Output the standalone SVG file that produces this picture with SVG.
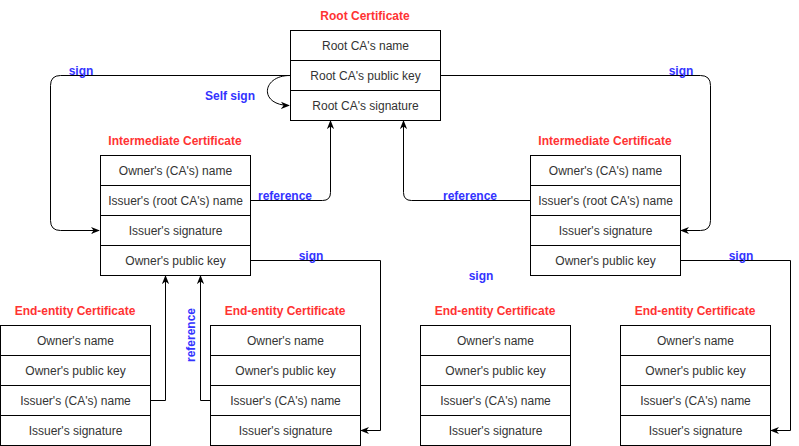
<svg xmlns="http://www.w3.org/2000/svg" width="799" height="446" viewBox="0 0 799 446">
<defs>
<style>
.cell{fill:#fff;stroke:#000;stroke-width:1}
.t{font-family:"Liberation Sans",Arial,sans-serif;font-size:12px;fill:#333;text-anchor:middle;dominant-baseline:central}
.title{font-family:"Liberation Sans",Arial,sans-serif;font-size:12px;font-weight:bold;fill:#FF3333;text-anchor:middle;dominant-baseline:central}
.lbl{font-family:"Liberation Sans",Arial,sans-serif;font-size:12px;font-weight:bold;fill:#3333FF;text-anchor:middle;dominant-baseline:central}
.c{fill:none;stroke:#000;stroke-width:1}
</style>
<marker id="arr" viewBox="0 0 10 10" refX="9" refY="5" markerWidth="9" markerHeight="9" markerUnits="userSpaceOnUse" orient="auto">
<path d="M0,1 L10,5 L0,9 L3,5 Z" fill="#000"/>
</marker>
</defs>
<rect width="799" height="446" fill="#fff"/>

<g id="connectors">
<path class="c" d="M290.5,75.5 H60.5 Q50.5,75.5 50.5,85.5 V220.5 Q50.5,230.5 60.5,230.5 H99" marker-end="url(#arr)"/>
<path class="c" d="M290.5,75.5 C262,75 258,105 289,105.5" marker-end="url(#arr)"/>
<path class="c" d="M250.5,200.5 H322.5 Q330.5,200.5 330.5,192.5 V121" marker-end="url(#arr)"/>
<path class="c" d="M440.5,75.5 H700.5 Q710.5,75.5 710.5,85.5 V220.5 Q710.5,230.5 700.5,230.5 H681" marker-end="url(#arr)"/>
<path class="c" d="M530.5,200.5 H411.5 Q403.5,200.5 403.5,192.5 V121" marker-end="url(#arr)"/>
<path class="c" d="M250.5,260.5 H380.5 V430.5 H361" marker-end="url(#arr)"/>
<path class="c" d="M150.5,400.5 H165.5 V276" marker-end="url(#arr)"/>
<path class="c" d="M210.5,400.5 H200.5 V276" marker-end="url(#arr)"/>
<path class="c" d="M680.5,260.5 H790.5 V430.5 H771" marker-end="url(#arr)"/>
<text class="lbl" x="81" y="71">sign</text>
<text class="lbl" x="230" y="96">Self sign</text>
<text class="lbl" x="285" y="196">reference</text>
<text class="lbl" x="681" y="71">sign</text>
<text class="lbl" x="470" y="196">reference</text>
<text class="lbl" x="311" y="256">sign</text>
<text class="lbl" x="741" y="256">sign</text>
<text class="lbl" x="481" y="276">sign</text>
<text class="lbl" x="0" y="0" transform="translate(191,335) rotate(-90)">reference</text>
</g>

<g id="root">
<text class="title" x="365" y="16">Root Certificate</text>
<rect class="cell" x="290.5" y="30.5" width="150" height="30"/>
<rect class="cell" x="290.5" y="60.5" width="150" height="30"/>
<rect class="cell" x="290.5" y="90.5" width="150" height="30"/>
<text class="t" x="365.5" y="45.5">Root CA's name</text>
<text class="t" x="365.5" y="75.5">Root CA's public key</text>
<text class="t" x="365.5" y="105.5">Root CA's signature</text>
</g>

<g id="intermediate-left">
<text class="title" x="175" y="141">Intermediate Certificate</text>
<rect class="cell" x="100.5" y="155.5" width="150" height="30"/>
<rect class="cell" x="100.5" y="185.5" width="150" height="30"/>
<rect class="cell" x="100.5" y="215.5" width="150" height="30"/>
<rect class="cell" x="100.5" y="245.5" width="150" height="30"/>
<text class="t" x="175.5" y="170.5">Owner's (CA's) name</text>
<text class="t" x="175.5" y="200.5">Issuer's (root CA's) name</text>
<text class="t" x="175.5" y="230.5">Issuer's signature</text>
<text class="t" x="175.5" y="260.5">Owner's public key</text>
</g>

<g id="intermediate-right">
<text class="title" x="605" y="141">Intermediate Certificate</text>
<rect class="cell" x="530.5" y="155.5" width="150" height="30"/>
<rect class="cell" x="530.5" y="185.5" width="150" height="30"/>
<rect class="cell" x="530.5" y="215.5" width="150" height="30"/>
<rect class="cell" x="530.5" y="245.5" width="150" height="30"/>
<text class="t" x="605.5" y="170.5">Owner's (CA's) name</text>
<text class="t" x="605.5" y="200.5">Issuer's (root CA's) name</text>
<text class="t" x="605.5" y="230.5">Issuer's signature</text>
<text class="t" x="605.5" y="260.5">Owner's public key</text>
</g>

<g id="end-entity-1">
<text class="title" x="75" y="311">End-entity Certificate</text>
<rect class="cell" x="0.5" y="325.5" width="150" height="30"/>
<rect class="cell" x="0.5" y="355.5" width="150" height="30"/>
<rect class="cell" x="0.5" y="385.5" width="150" height="30"/>
<rect class="cell" x="0.5" y="415.5" width="150" height="30"/>
<text class="t" x="75.5" y="340.5">Owner's name</text>
<text class="t" x="75.5" y="370.5">Owner's public key</text>
<text class="t" x="75.5" y="400.5">Issuer's (CA's) name</text>
<text class="t" x="75.5" y="430.5">Issuer's signature</text>
</g>

<g id="end-entity-2">
<text class="title" x="285" y="311">End-entity Certificate</text>
<rect class="cell" x="210.5" y="325.5" width="150" height="30"/>
<rect class="cell" x="210.5" y="355.5" width="150" height="30"/>
<rect class="cell" x="210.5" y="385.5" width="150" height="30"/>
<rect class="cell" x="210.5" y="415.5" width="150" height="30"/>
<text class="t" x="285.5" y="340.5">Owner's name</text>
<text class="t" x="285.5" y="370.5">Owner's public key</text>
<text class="t" x="285.5" y="400.5">Issuer's (CA's) name</text>
<text class="t" x="285.5" y="430.5">Issuer's signature</text>
</g>

<g id="end-entity-3">
<text class="title" x="495" y="311">End-entity Certificate</text>
<rect class="cell" x="420.5" y="325.5" width="150" height="30"/>
<rect class="cell" x="420.5" y="355.5" width="150" height="30"/>
<rect class="cell" x="420.5" y="385.5" width="150" height="30"/>
<rect class="cell" x="420.5" y="415.5" width="150" height="30"/>
<text class="t" x="495.5" y="340.5">Owner's name</text>
<text class="t" x="495.5" y="370.5">Owner's public key</text>
<text class="t" x="495.5" y="400.5">Issuer's (CA's) name</text>
<text class="t" x="495.5" y="430.5">Issuer's signature</text>
</g>

<g id="end-entity-4">
<text class="title" x="695" y="311">End-entity Certificate</text>
<rect class="cell" x="620.5" y="325.5" width="150" height="30"/>
<rect class="cell" x="620.5" y="355.5" width="150" height="30"/>
<rect class="cell" x="620.5" y="385.5" width="150" height="30"/>
<rect class="cell" x="620.5" y="415.5" width="150" height="30"/>
<text class="t" x="695.5" y="340.5">Owner's name</text>
<text class="t" x="695.5" y="370.5">Owner's public key</text>
<text class="t" x="695.5" y="400.5">Issuer's (CA's) name</text>
<text class="t" x="695.5" y="430.5">Issuer's signature</text>
</g>
</svg>
